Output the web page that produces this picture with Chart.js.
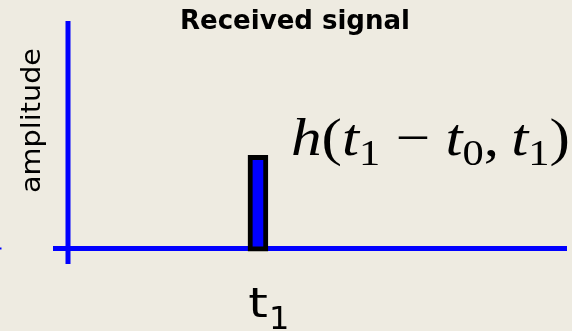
<!DOCTYPE html>
<html>
<head>
<meta charset="utf-8">
<script src="https://cdn.jsdelivr.net/npm/chart.js@4/dist/chart.umd.min.js"></script>
<style>
  html, body { margin: 0; padding: 0; background: #eeebe1; }
  #wrap { width: 572px; height: 331px; }
  canvas { display: block; }
</style>
</head>
<body>
<div id="wrap"><canvas id="c" width="572" height="331"></canvas></div>
<script>
// ---- data ----
const TITLE = 'Received signal';
const Y_LABEL = 'amplitude';
const arrivalTimes = [1];            // t1
const amplitudes = [1];              // h(t1 - t0, t1)
const tickBase = ['t'];              // time tick label under each arrival
const tickSub = ['1'];               // its subscript
const X_RANGE = [-0.079, 2.627];     // time axis extent (axis origin at 0)
const Y_RANGE = [-0.167, 2.44];      // amplitude axis extent (axis origin at 0)

// value label of the impulse: h(t1 − t0, t1)
const valueLabelParts = [
  { text: 'h', style: 'it' },
  { text: '(', style: 'rm' },
  { text: 't', style: 'it' },
  { text: '1', style: 'sub' },
  { text: ' \u2212 ', style: 'rm' },
  { text: 't', style: 'it' },
  { text: '0', style: 'sub' },
  { text: ',', style: 'rm' },
  { text: '\u2009', style: 'rm' },
  { text: 't', style: 'it' },
  { text: '1', style: 'sub' },
  { text: ')', style: 'rm' }
];

const BG = '#eeebe1';
const AXIS_BLUE = '#0000ff';

// text drawn at a given width by stretching/compressing horizontally
function fitText(ctx, text, x, y, width, align) {
  const w = ctx.measureText(text).width;
  const s = width / w;
  ctx.save();
  ctx.translate(x, y);
  ctx.scale(s, 1);
  ctx.textAlign = align || 'center';
  ctx.fillText(text, 0, 0);
  ctx.restore();
}

const backgroundPlugin = {
  id: 'bg',
  beforeDraw(chart) {
    const ctx = chart.ctx;
    ctx.save();
    ctx.fillStyle = BG;
    ctx.fillRect(0, 0, chart.width, chart.height);
    ctx.restore();
  }
};

// crossing blue axes, drawn through the scales' origin
const axesPlugin = {
  id: 'crossAxes',
  beforeDatasetsDraw(chart) {
    const { ctx, scales: { x, y } } = chart;
    const x0 = x.getPixelForValue(0);
    const y0 = y.getPixelForValue(0);
    ctx.save();
    ctx.strokeStyle = AXIS_BLUE;
    ctx.lineCap = 'butt';
    ctx.lineWidth = 5;
    ctx.beginPath();
    ctx.moveTo(x.getPixelForValue(X_RANGE[0]), y0);
    ctx.lineTo(x.getPixelForValue(X_RANGE[1]), y0);
    ctx.stroke();
    ctx.beginPath();
    ctx.moveTo(x0, y.getPixelForValue(Y_RANGE[1]));
    ctx.lineTo(x0, y.getPixelForValue(Y_RANGE[0]));
    ctx.stroke();
    // short stub at the far left edge
    ctx.lineWidth = 2;
    ctx.beginPath();
    ctx.moveTo(0, y0);
    ctx.lineTo(1.5, y0);
    ctx.stroke();
    ctx.restore();
  }
};

const labelsPlugin = {
  id: 'labels',
  afterDatasetsDraw(chart) {
    const { ctx } = chart;
    ctx.save();
    ctx.fillStyle = '#000';
    ctx.textBaseline = 'alphabetic';

    // title
    ctx.font = 'bold 26px "DejaVu Sans"';
    fitText(ctx, TITLE, 295, 28.5, 230, 'center');

    // rotated axis name
    ctx.save();
    ctx.translate(39.5, 120.5);
    ctx.rotate(-Math.PI / 2);
    ctx.font = '27px "DejaVu Sans"';
    fitText(ctx, Y_LABEL, 0, 0, 145, 'center');
    ctx.restore();

    const meta = chart.getDatasetMeta(0);
    meta.data.forEach((bar, i) => {
      const half = bar.width / 2;

      // time label under the impulse
      ctx.font = '40px "DejaVu Sans"';
      ctx.textAlign = 'center';
      ctx.save();
      ctx.translate(bar.x, 317);
      ctx.scale(1.25, 1);
      ctx.fillText(tickBase[i], 0, 0);
      ctx.restore();
      ctx.font = '32px "DejaVu Sans"';
      ctx.textAlign = 'left';
      ctx.fillText(tickSub[i], bar.x + 11, 329);

      // value label next to the top of the impulse
      const fonts = {
        it: 'italic 52px "Liberation Serif"',
        rm: '52px "Liberation Serif"',
        sub: '36px "Liberation Serif"'
      };
      let total = 0;
      const widths = valueLabelParts.map(p => {
        ctx.font = fonts[p.style];
        const w = ctx.measureText(p.text).width;
        total += w;
        return w;
      });
      const targetWidth = 279;
      const sx = targetWidth / total;
      ctx.save();
      ctx.translate(bar.x + half + 23, bar.y);
      ctx.scale(sx, 1);
      ctx.textAlign = 'left';
      let cx = 0;
      valueLabelParts.forEach((p, k) => {
        ctx.font = fonts[p.style];
        ctx.fillText(p.text, cx, p.style === 'sub' ? 10 : 0);
        cx += widths[k];
      });
      ctx.restore();
    });
    ctx.restore();
  }
};

new Chart(document.getElementById('c'), {
  type: 'bar',
  data: {
    datasets: [{
      data: arrivalTimes.map((t, i) => ({ x: t, y: amplitudes[i] })),
      backgroundColor: AXIS_BLUE,
      borderColor: '#000000',
      borderWidth: 5,
      borderSkipped: false,
      barThickness: 20,
      base: -0.03
    }]
  },
  options: {
    responsive: false,
    devicePixelRatio: 1,
    animation: false,
    layout: { padding: { left: 53, right: 5, top: 21, bottom: 67 } },
    scales: {
      x: { type: 'linear', min: X_RANGE[0], max: X_RANGE[1], display: false, offset: false },
      y: { type: 'linear', min: Y_RANGE[0], max: Y_RANGE[1], display: false }
    },
    plugins: {
      legend: { display: false },
      tooltip: { enabled: false },
      title: { display: false }
    }
  },
  plugins: [backgroundPlugin, axesPlugin, labelsPlugin]
});
</script>
</body>
</html>
